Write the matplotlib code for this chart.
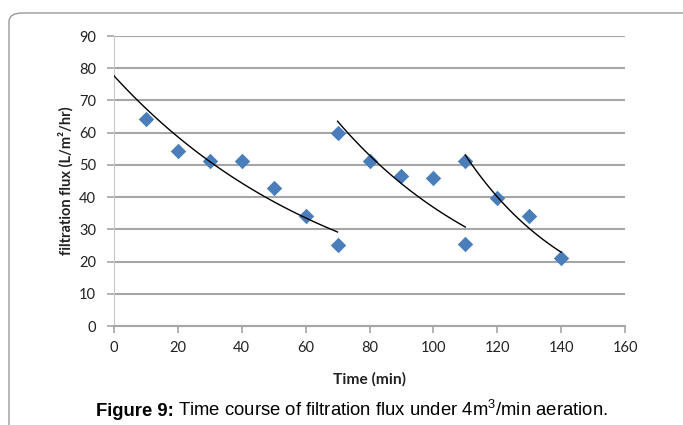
import numpy as np
import matplotlib
matplotlib.use("Agg")
import matplotlib.pyplot as plt
from matplotlib.patches import FancyBboxPatch

# measured points (time in min, flux in L/m2/hr), three filtration cycles
cycle1_t = [10, 20, 30, 40, 50, 60, 70]
cycle1_flux = [64.2, 54.4, 51.3, 51.3, 42.8, 34.2, 25.2]
cycle2_t = [70, 80, 90, 100, 110]
cycle2_flux = [59.9, 51.3, 46.7, 46.0, 25.5]
cycle3_t = [110, 120, 130, 140]
cycle3_flux = [51.3, 39.7, 34.2, 21.2]

# trendline ranges (first one is extended back to 0)
trend_ranges = [(0, 70), (70, 110), (110, 140)]

plt.rcParams["font.family"] = ["Lato", "DejaVu Sans"]
plt.rcParams["mathtext.fontset"] = "custom"
plt.rcParams["mathtext.rm"] = "Liberation Sans"

fig = plt.figure(figsize=(6.83, 4.25), dpi=100)

# rounded frame around the figure
frame = FancyBboxPatch((9 / 683, -0.2), 1.2, 1.2 - 13 / 425,
                       boxstyle="round,pad=0,rounding_size=0.02",
                       transform=fig.transFigure, fill=False,
                       edgecolor="#9a9a9a", linewidth=1.0)
fig.patches.append(frame)

ax = fig.add_axes([114 / 683, 1 - 326 / 425, 511 / 683, 290 / 425])

all_t = [cycle1_t, cycle2_t, cycle3_t]
all_f = [cycle1_flux, cycle2_flux, cycle3_flux]
for t, f, (x0, x1) in zip(all_t, all_f, trend_ranges):
    ax.scatter(t, f, marker="D", s=62, color="#4a7ebb", zorder=3, linewidths=0)
    # exponential trendline like excel
    b, a = np.polyfit(t, np.log(f), 1)
    xs = np.linspace(x0, x1, 100)
    ax.plot(xs, np.exp(a + b * xs), color="black", linewidth=1.0, zorder=4)

ax.set_xlim(0, 160)
ax.set_ylim(0, 90)
ax.set_xticks(range(0, 161, 20))
ax.set_yticks(range(0, 91, 10))
ax.yaxis.grid(True, color="#a6a6a6", linewidth=1.5)
ax.set_axisbelow(True)
for s in ["top", "right"]:
    ax.spines[s].set_visible(False)
ax.spines["left"].set_color("#c8c8c8")
ax.spines["bottom"].set_color("#a6a6a6")
ax.spines["bottom"].set_linewidth(1.5)
ax.tick_params(axis="x", colors="#a6a6a6", length=5, width=1.2, labelcolor="#222222",
               labelsize=10.5, pad=6)
ax.tick_params(axis="y", colors="#a6a6a6", length=5, width=1.2, labelcolor="#222222",
               labelsize=10.5, pad=8)

ax.set_xlabel("Time (min)", fontsize=11.2, fontweight="bold", labelpad=12, color="#222222")
ax.set_ylabel("filtration flux (L/m\u00b2/hr)", fontsize=10.5, fontweight="bold",
              labelpad=4, color="#222222")

fig.text(0.254, 0.022, "Figure 9:", fontsize=13.3, fontweight="bold",
         family="Liberation Sans", ha="right", va="baseline")
fig.text(0.260, 0.022, "Time course of filtration flux under 4m$^{3}$/min aeration.",
         fontsize=13.3, family="Liberation Sans", ha="left", va="baseline")

fig.savefig("out.png", dpi=100)
